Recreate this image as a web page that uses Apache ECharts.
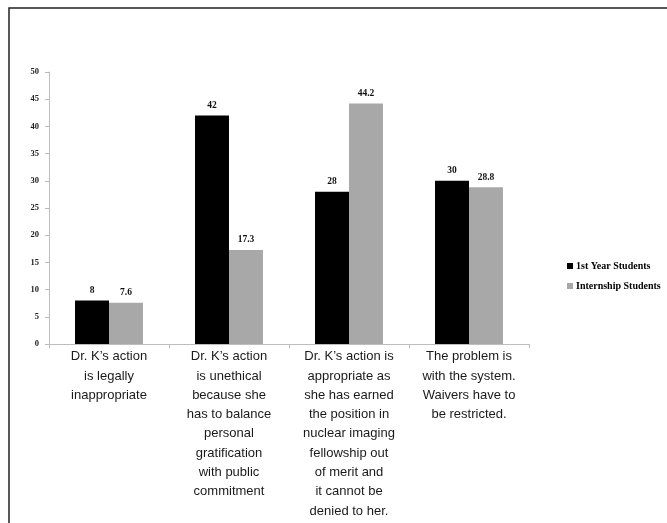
<!DOCTYPE html>
<html>
<head>
<meta charset="utf-8">
<script src="https://cdn.jsdelivr.net/npm/echarts@6/dist/echarts.min.js"></script>
<style>
  html, body { margin: 0; padding: 0; background: #fff; }
  #chart { width: 667px; height: 523px; }
</style>
</head>
<body>
<div id="chart"></div>
<script>
// Survey responses (percent) by student group
const categories = [
  "Dr. K\u2019s action\nis legally\ninappropriate",
  "Dr. K\u2019s action\nis unethical\nbecause she\nhas to balance\npersonal\ngratification\nwith public\ncommitment",
  "Dr. K\u2019s action is\nappropriate as\nshe has earned\nthe position in\nnuclear imaging\nfellowship out\nof merit and\nit cannot be\ndenied to her.",
  "The problem is\nwith the system.\nWaivers have to\nbe restricted."
];
const firstYear = [8, 42, 28, 30];
const internship = [7.6, 17.3, 44.2, 28.8];
const seriesNames = ["1st Year Students", "Internship Students"];
const yTicks = { min: 0, max: 50, interval: 5 };

const serif = "'Liberation Serif', 'DejaVu Serif', serif";
const sans = "'Liberation Sans', Arial, sans-serif";

const chart = echarts.init(document.getElementById('chart'), null, { renderer: 'canvas' });

const valueLabel = {
  show: true,
  position: 'top',
  distance: 5,
  fontFamily: serif,
  fontWeight: 'bold',
  fontSize: 9.5,
  color: '#111'
};

chart.setOption({
  animation: false,
  backgroundColor: '#ffffff',
  grid: { left: 49, right: 138, top: 72, bottom: 179, containLabel: false },
  legend: {
    orient: 'vertical',
    left: 562,
    top: 256,
    itemWidth: 6,
    itemHeight: 6,
    itemGap: 10,
    icon: 'rect',
    data: seriesNames,
    textStyle: { fontFamily: serif, fontWeight: 'bold', fontSize: 10, color: '#000', padding: [0, 0, 0, -2] }
  },
  xAxis: {
    type: 'category',
    data: categories,
    axisLine: { lineStyle: { color: '#bdbdbd', width: 1 } },
    axisTick: { show: true, length: 4, lineStyle: { color: '#bdbdbd' } },
    axisLabel: {
      interval: 0,
      margin: 3,
      fontFamily: sans,
      fontSize: 13,
      lineHeight: 19.3,
      color: '#1a1a1a',
      align: 'center'
    }
  },
  yAxis: {
    type: 'value',
    min: yTicks.min,
    max: yTicks.max,
    interval: yTicks.interval,
    splitLine: { show: false },
    axisLine: { show: true, lineStyle: { color: '#bdbdbd', width: 1 } },
    axisTick: { show: true, length: 4, lineStyle: { color: '#bdbdbd' } },
    axisLabel: {
      margin: 10,
      fontFamily: serif,
      fontWeight: 'bold',
      fontSize: 8.5,
      color: '#222'
    }
  },
  series: [
    {
      name: seriesNames[0],
      type: 'bar',
      data: firstYear,
      barWidth: 34,
      barGap: '0%',
      itemStyle: { color: '#000000' },
      label: valueLabel
    },
    {
      name: seriesNames[1],
      type: 'bar',
      data: internship,
      barWidth: 34,
      barGap: '0%',
      itemStyle: { color: '#a8a8a8' },
      label: valueLabel
    }
  ],
  graphic: [
    {
      type: 'polyline',
      silent: true,
      shape: { points: [[9, 530], [9, 8], [680, 8]] },
      style: { stroke: '#222', lineWidth: 1.5, fill: null }
    }
  ]
});
</script>
</body>
</html>
